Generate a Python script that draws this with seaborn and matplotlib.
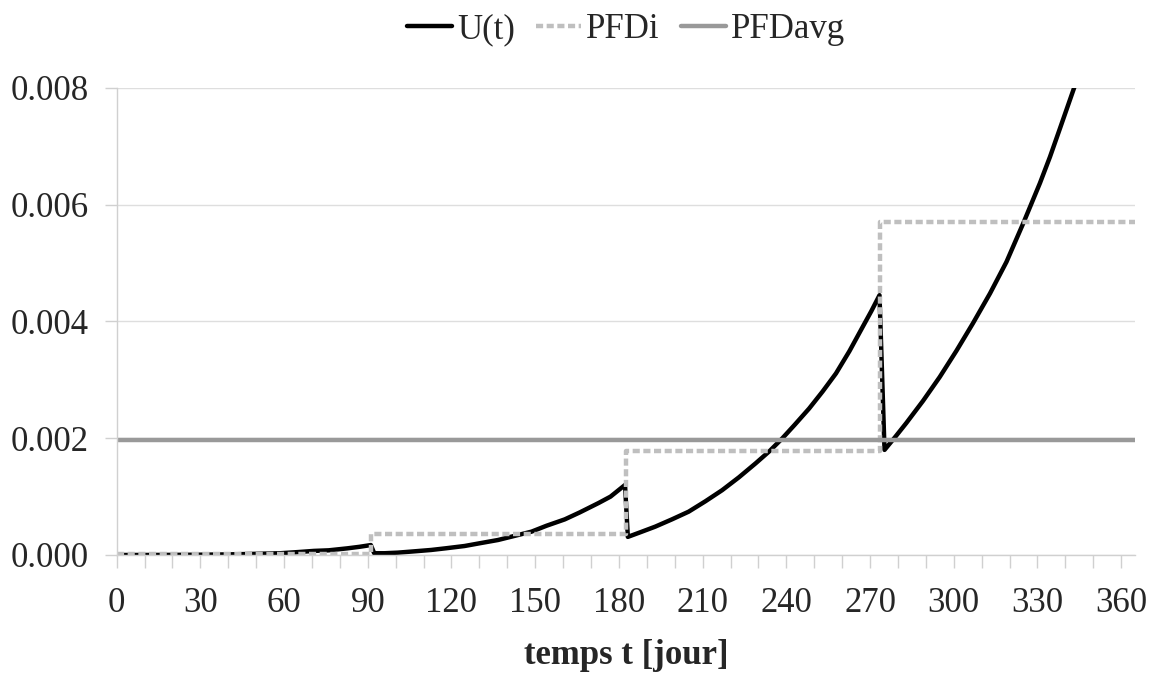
import numpy as np
import pandas as pd
import seaborn as sns
import matplotlib.pyplot as plt
from matplotlib.ticker import MultipleLocator, FormatStrFormatter

# U(t), one block per test interval
t_u = [0, 10, 20, 30, 40, 50, 58.7, 65, 70.7, 76, 82.7, 87, 91.1,
       92.3, 96, 100.7, 106, 112.7, 118, 124.7, 130, 136.7, 142, 148.7, 154, 160.6, 166, 172.7, 177, 182.2,
       183.2, 188, 193, 199, 205, 211, 217, 223, 229, 234, 238.6, 243, 248.2, 253, 257.8, 262.6, 267.4, 270.5, 273.4,
       275.2, 279, 283, 289, 295, 301, 306.9, 313, 318.9, 324.9, 330.9, 334.5, 338.1, 343.5, 346]
u_vals = [0, 0.0000005, 0.000002, 0.000005, 0.00001, 0.00002, 0.00003, 0.00005, 0.00007, 0.00008, 0.000114, 0.00014, 0.00017,
          0.00003, 0.00003, 0.00004, 0.00006, 0.000086, 0.000115, 0.000154, 0.0002, 0.000257, 0.00032, 0.0004, 0.0005, 0.00061, 0.00073, 0.00089, 0.001, 0.0012,
          0.00031, 0.000395, 0.000485, 0.00061, 0.000742, 0.00092, 0.00111, 0.00133, 0.00157, 0.00178, 0.0020, 0.00223, 0.00251, 0.0028, 0.00311, 0.00349, 0.00391, 0.00418, 0.00445,
          0.0018, 0.00202, 0.00226, 0.00264, 0.00305, 0.0035, 0.00397, 0.00448, 0.00502, 0.00568, 0.00637, 0.00682, 0.00731, 0.00805, 0.0084]

# PFDi per interval (step)
t_pfdi = [0, 91.25, 182.5, 273.75, 365]
pfdi_vals = [0.00002, 0.00036, 0.00178, 0.0057, 0.0057]

t_avg = [0, 365]
pfdavg_vals = [0.00197, 0.00197]

df_u = pd.DataFrame({'t': t_u, 'val': u_vals})
df_i = pd.DataFrame({'t': t_pfdi, 'val': pfdi_vals})
df_a = pd.DataFrame({'t': t_avg, 'val': pfdavg_vals})

sns.set_style('white')
plt.rcParams['font.family'] = ['Liberation Serif', 'DejaVu Serif']
plt.rcParams['font.size'] = 25

fig = plt.figure(figsize=(11.54, 6.89), dpi=100)
ax = fig.add_axes([0.1011, 0.1945, 0.8825, 0.6778])

sns.lineplot(data=df_u, x='t', y='val', ax=ax, color='black', lw=3.2,
             estimator=None, sort=False, label='U(t)', solid_joinstyle='round')
sns.lineplot(data=df_i, x='t', y='val', ax=ax, color='#bfbfbf', lw=3.2,
             estimator=None, sort=False, drawstyle='steps-post', label='PFDi')
ax.lines[-1].set_dashes((1.6, 0.8))
sns.lineplot(data=df_a, x='t', y='val', ax=ax, color='#999999', lw=3.2,
             estimator=None, sort=False, label='PFDavg')

ax.set_xlim(0, 365)
ax.set_ylim(0, 0.008)
ax.xaxis.set_major_locator(MultipleLocator(30))
ax.xaxis.set_minor_locator(MultipleLocator(10))
ax.yaxis.set_major_locator(MultipleLocator(0.002))
ax.yaxis.set_major_formatter(FormatStrFormatter('%.3f'))

ax.grid(axis='y', color='#dedede', lw=1)
ax.set_axisbelow(True)
for s in ['top', 'right']:
    ax.spines[s].set_visible(False)
for s in ['left', 'bottom']:
    ax.spines[s].set_color('#d0d0d0')
    ax.spines[s].set_linewidth(1)

ax.tick_params(axis='x', which='both', direction='out', length=9, width=1,
               color='#d0d0d0', pad=14, labelsize=25, bottom=True)
ax.tick_params(axis='x', which='minor', labelbottom=False)
ax.tick_params(axis='y', direction='out', length=9, width=1, color='#d0d0d0',
               pad=11, labelsize=25, left=True)

ax.set_xlabel('temps t [jour]', fontsize=25, fontweight='bold', labelpad=14)
ax.set_ylabel('')

ax.legend(loc='center', bbox_to_anchor=(0.5, 1.125), ncol=3, frameon=False,
          fontsize=25, handlelength=1.3, handletextpad=0.15, columnspacing=0.6)

fig.savefig('out.png', dpi=100)
